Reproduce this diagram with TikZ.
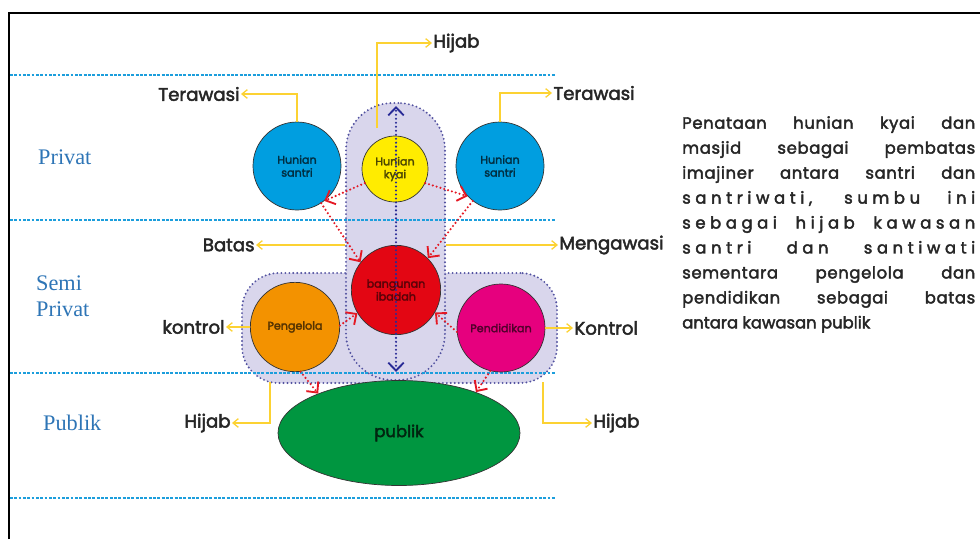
\documentclass[tikz,border=0pt]{standalone}
\usepackage{fontspec}
\usepackage{tikz}
\usetikzlibrary{arrows.meta, calc, positioning, shapes.geometric}
\newfontfamily\handfont{Poppins}[FakeBold=2.5]
\newfontfamily\serifside{Liberation Serif}
\definecolor{zonefill}{RGB}{217,214,236}
\definecolor{zoneline}{RGB}{82,82,160}
\definecolor{bandblue}{RGB}{28,158,220}
\definecolor{sideblue}{RGB}{46,117,182}
\definecolor{leadyellow}{RGB}{252,210,50}
\definecolor{linkred}{RGB}{228,24,36}
\definecolor{axisblue}{RGB}{40,42,150}
\definecolor{santriblue}{RGB}{0,158,224}
\definecolor{kyaiyellow}{RGB}{255,236,0}
\definecolor{ibadahred}{RGB}{227,6,19}
\definecolor{kelolaorange}{RGB}{243,146,0}
\definecolor{didikmagenta}{RGB}{230,0,126}
\definecolor{publikgreen}{RGB}{0,150,64}
\newcommand{\fullline}[1]{\makebox[87.9mm][s]{\addfontfeature{LetterSpace=4}#1}}
\newcommand{\spacedline}[1]{\makebox[87.9mm][s]{\addfontfeature{LetterSpace=28}#1}}

\begin{document}
\begin{tikzpicture}[x=0.3mm, y=-0.3mm,
		zone/.style = {draw=zoneline, fill=zonefill, line width=1.8pt,
					dash pattern=on 0pt off 3.4pt, line cap=round, inner sep=0pt},
		band/.style = {draw=bandblue, line width=1.8pt, dash pattern=on 2.4pt off 1.3pt},
		bubble/.style = {circle, draw=black!80, line width=0.6pt, inner sep=0pt,
					align=center, font=\handfont\fontsize{9.5}{11}\selectfont},
		lead/.style = {draw=leadyellow, line width=1.1pt,
					-{Straight Barb[length=1.6mm, width=2.6mm]}},
		link/.style = {draw=linkred, line width=2pt, dash pattern=on 0pt off 3.4pt,
					line cap=round, -{Straight Barb[length=2.4mm, width=4.6mm, line width=1.6pt]}},
		tag/.style = {font=\handfont\fontsize{15.5}{17}\selectfont, text=black!85, inner sep=1pt},
		side/.style = {font=\serifside\fontsize{19}{22}\selectfont, text=sideblue, inner sep=0pt}
                   ]

	\useasboundingbox (0,0) rectangle (980,539);

%Frame
	\draw[line width=1.6pt] (9,539) -- (9,13) -- (980,13);

%Zones
	\node[zone, rounded corners=11mm, minimum width=94.5mm, minimum height=33mm] (hzone) at (399.5,328) {};
	\node[zone, rounded corners=14mm, minimum width=29.7mm, minimum height=83.1mm] (vzone) at (395.5,241.5) {};

%Bands
	\draw[band] (10,75) -- (555,75);
	\draw[band] (10,220) -- (555,220);
	\draw[band] (10,373) -- (555,373);
	\draw[band] (10,498) -- (555,498);

%Side labels
	\node[side, anchor=west] (privat) at (38,157) {Privat};
	\node[side, anchor=west, align=left] (semi) at (36,296) {Semi\\Privat};
	\node[side, anchor=west] (publikside) at (43,423) {Publik};

%Circles
	\node[bubble, fill=santriblue, text=santriblue!30!black, minimum size=26.4mm] (santriL) at (297,166) {Hunian\\santri};
	\node[bubble, fill=kyaiyellow, text=kyaiyellow!30!black, minimum size=19.8mm] (kyai) at (395,169) {Hunian\\kyai};
	\node[bubble, fill=santriblue, text=santriblue!30!black, minimum size=26.4mm] (santriR) at (500,166) {Hunian\\santri};
	\node[bubble, fill=ibadahred, text=ibadahred!40!black, minimum size=26.8mm] (ibadah) at (396,290) {bangunan\\ibadah};
	\node[bubble, fill=kelolaorange, text=kelolaorange!35!black, minimum size=26.8mm] (pengelola) at (295,327) {Pengelola};
	\node[bubble, fill=didikmagenta, text=didikmagenta!35!black, minimum size=26.4mm] (pendidikan) at (501,328) {Pendidikan};
	\node[bubble, ellipse, fill=publikgreen, text=publikgreen!25!black, minimum width=72.6mm, minimum height=31.5mm,
		font=\handfont\fontsize{14}{16}\selectfont] (publik) at (399,433) {publik};

%Axis
	\coordinate (axtop) at (396,106);
	\coordinate (axbot) at (396,372);
	\draw[draw=axisblue, line width=2pt, dash pattern=on 0pt off 3.4pt, line cap=round,
		{Straight Barb[length=2.4mm, width=4.6mm, line width=1.6pt]}-{Straight Barb[length=2.4mm, width=4.6mm, line width=1.6pt]}] (axbot) -- (axtop);

%Links
	\draw[link] (kyai.205) -- (santriL.-52);
	\draw[link] (kyai.-25) -- (santriR.223);
	\draw[link] (santriL.-57) -- (ibadah.142);
	\draw[link] (santriR.232) -- (ibadah.45);
	\draw[link] (pengelola.2) -- (ibadah.211);
	\draw[link] (pendidikan.185) -- (ibadah.-30);
	\draw[link] (pengelola.-83) -- (publik.154);
	\draw[link] (pendidikan.-104) -- (publik.28);

%Tags
	\node[tag, anchor=west] (hijabT) at (432,43) {Hijab};
	\node[tag, anchor=east] (terL) at (241,94) {Terawasi};
	\node[tag, anchor=west] (terR) at (552,93) {Terawasi};
	\node[tag, anchor=east] (batas) at (256,245) {Batas};
	\node[tag, anchor=west] (meng) at (558,245) {Mengawasi};
	\node[tag, anchor=east] (kontrolL) at (226,327) {kontrol};
	\node[tag, anchor=west] (kontrolR) at (573,328) {Kontrol};
	\node[tag, anchor=east] (hijabL) at (232,423) {Hijab};
	\node[tag, anchor=west] (hijabR) at (592,423) {Hijab};

%Leads
	\coordinate (hjT) at (377,128);
	\coordinate (hjL) at (270,382);
	\coordinate (hjR) at (543,382);
	\draw[lead] (hjT) |- (hijabT.west);
	\draw[lead] (santriL.north) |- (terL.east);
	\draw[lead] (santriR.north) |- (terR.west);
	\draw[lead] (batas.east -| vzone.west) -- (batas.east);
	\draw[lead] (meng.west -| vzone.east) -- (meng.west);
	\draw[lead] (pengelola.west) -- (kontrolL.east);
	\draw[lead] (pendidikan.east) -- (kontrolR.west);
	\draw[lead] (hjL) |- (hijabL.east);
	\draw[lead] (hjR) |- (hijabR.west);

%Note
	\node[anchor=north west, inner sep=0pt, align=left, text=black!85,
		font=\handfont\fontsize{14}{21.3}\selectfont] (note) at (682,116)
		{\fullline{Penataan hunian kyai dan}\\
		 \fullline{masjid sebagai pembatas}\\
		 \fullline{imajiner antara santri dan}\\
		 \spacedline{santriwati, sumbu ini}\\
		 \spacedline{sebagai hijab kawasan}\\
		 \spacedline{santri dan santiwati}\\
		 \fullline{sementara pengelola dan}\\
		 \fullline{pendidikan sebagai batas}\\
		 antara kawasan publik};

\end{tikzpicture}
\end{document}
